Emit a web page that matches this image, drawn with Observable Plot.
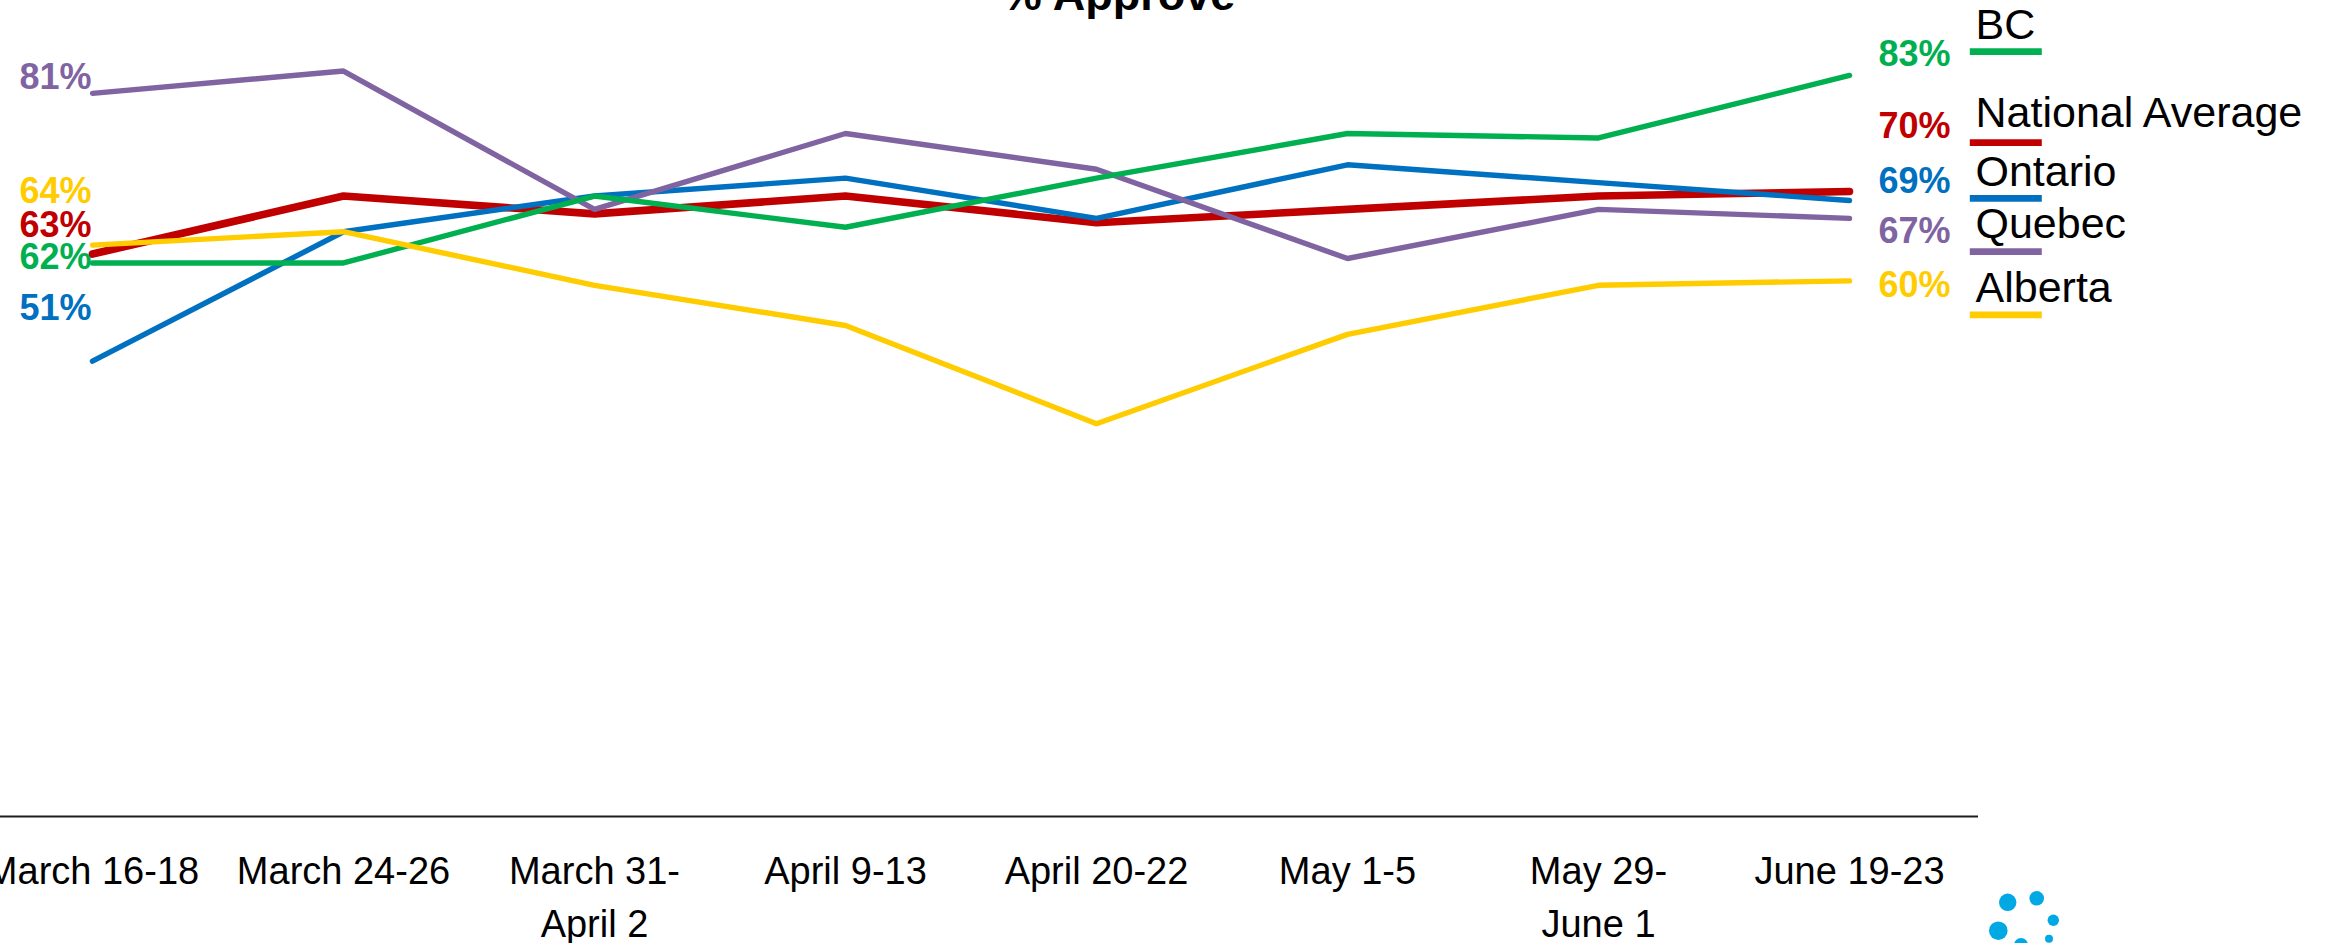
<!DOCTYPE html>
<html>
<head>
<meta charset="utf-8">
<script src="https://cdn.jsdelivr.net/npm/d3@7"></script>
<script src="https://cdn.jsdelivr.net/npm/@observablehq/plot@0.6"></script>
<style>
  html, body { margin: 0; padding: 0; background: #fff; }
  #wrap { position: relative; width: 2336px; height: 943px; overflow: hidden; }
  #logo { position: absolute; left: 1980px; top: 880px; }
</style>
</head>
<body>
<div id="wrap"></div>
<script>
// ---- data ----
const categories = ["March 16-18", "March 24-26", "March 31-April 2", "April 9-13", "April 20-22", "May 1-5", "May 29-June 1", "June 19-23"];
const tickLabels = ["March 16-18", "March 24-26", "March 31-\nApril 2", "April 9-13", "April 20-22", "May 1-5", "May 29-\nJune 1", "June 19-23"];
const seriesNames = ["BC", "National Average", "Ontario", "Quebec", "Alberta"];
const bc       = [62, 62, 69.5, 66, 71.5, 76.5, 76, 83];
const national = [63, 69.5, 67.5, 69.5, 66.5, 68, 69.5, 70];
const ontario  = [51, 65.5, 69.5, 71.5, 67, 73, 71, 69];
const quebec   = [81, 83.5, 68, 76.5, 72.5, 62.5, 68, 67];
const alberta  = [64, 65.5, 59.5, 55, 44, 54, 59.5, 60];
const title = "% Approve";

// ---- styles / layout (not data) ----
const colors = {"BC": "#00B050", "National Average": "#C00000", "Ontario": "#0070C0", "Quebec": "#8064A2", "Alberta": "#FFCC00"};
const widths = {"BC": 5.4, "National Average": 7.6, "Ontario": 5.4, "Quebec": 5.4, "Alberta": 5.4};
// baseline offsets for labels (px)
const startDy  = {"BC": 5.7, "National Average": -16.7, "Ontario": -40.7, "Quebec": -4.4, "Alberta": -42.5};
const endDy    = {"BC": -9.1, "National Average": -53.6, "Ontario": -7.5, "Quebec": 25, "Alberta": 16.5};
const legendDy = {"BC": -36.5, "National Average": -64.2, "Ontario": -14.8, "Quebec": 20, "Alberta": 21.5};
const barDy    = {"BC": -23.8, "National Average": -48.9, "Ontario": -2.1, "Quebec": 33.3, "Alberta": 34.1};
const drawOrder = ["National Average", "Ontario", "Quebec", "BC", "Alberta"];

const seriesValues = {"BC": bc, "National Average": national, "Ontario": ontario, "Quebec": quebec, "Alberta": alberta};
const rows = seriesNames.flatMap(s => categories.map((c, j) => ({series: s, period: c, value: seriesValues[s][j]})));

const FONT = "'Liberation Sans', Arial, sans-serif";
const barSymbol = { draw(ctx) { ctx.rect(-36, -3.4, 72, 6.8); } };

const marks = [];
marks.push(Plot.ruleY([0], {stroke: "#1e1e1e", strokeWidth: 2}));
for (const s of drawOrder) {
  marks.push(Plot.line(rows.filter(d => d.series === s), {
    x: "period", y: "value", stroke: colors[s], strokeWidth: widths[s],
    strokeLinejoin: "miter", strokeLinecap: "round"
  }));
}
for (const s of seriesNames) {
  const r = rows.filter(d => d.series === s);
  const first = r[0], last = r[r.length - 1];
  marks.push(Plot.text([first], {
    x: "period", y: "value", text: d => Math.round(d.value) + "%",
    textAnchor: "end", lineAnchor: "bottom", dx: -1, dy: startDy[s],
    fill: colors[s], fontWeight: "bold", fontSize: 36, fontFamily: FONT
  }));
  marks.push(Plot.text([last], {
    x: "period", y: "value", text: d => Math.round(d.value) + "%",
    textAnchor: "start", lineAnchor: "bottom", dx: 29, dy: endDy[s],
    fill: colors[s], fontWeight: "bold", fontSize: 36, fontFamily: FONT
  }));
  marks.push(Plot.text([last], {
    x: "period", y: "value", text: d => d.series,
    textAnchor: "start", lineAnchor: "bottom", dx: 126, dy: legendDy[s],
    fill: "#000", fontSize: 43, fontFamily: FONT
  }));
  marks.push(Plot.dot([last], {
    x: "period", y: "value", symbol: barSymbol, r: 5,
    dx: 156.3, dy: barDy[s], fill: colors[s], stroke: "none"
  }));
}
marks.push(Plot.text(categories, {
  x: d => d, text: (d, i) => tickLabels[i], frameAnchor: "bottom",
  lineAnchor: "top", dy: 31, lineHeight: 1.37, fontSize: 38, fill: "#000", fontFamily: FONT
}));
marks.push(Plot.text([title], {
  frameAnchor: "top", lineAnchor: "bottom", dy: 9, dx: 129,
  fontSize: 45, fontWeight: "bold", fill: "#000", fontFamily: FONT
}));

const chart = Plot.plot({
  width: 2336, height: 943,
  marginTop: 0, marginBottom: 127, marginLeft: 0, marginRight: 358,
  x: {type: "point", domain: categories, range: [-36.4, 1977.6], padding: 0.5, axis: null},
  y: {domain: [0, 91.4], axis: null},
  style: {fontFamily: FONT, background: "#fff", overflow: "hidden"},
  marks
});
document.getElementById("wrap").appendChild(chart);

// decorative logo (not data)
document.getElementById("wrap").insertAdjacentHTML("beforeend",
  `<svg id="logo" width="100" height="63"><g fill="#00A9E3">
    <circle cx="27.7" cy="22.3" r="8.7"/><circle cx="56.7" cy="18.3" r="7.3"/>
    <circle cx="73.3" cy="40.3" r="5.7"/><circle cx="18.3" cy="50.7" r="9.3"/>
    <circle cx="69" cy="58.7" r="4"/><circle cx="41" cy="65" r="7"/></g></svg>`);
</script>
</body>
</html>
